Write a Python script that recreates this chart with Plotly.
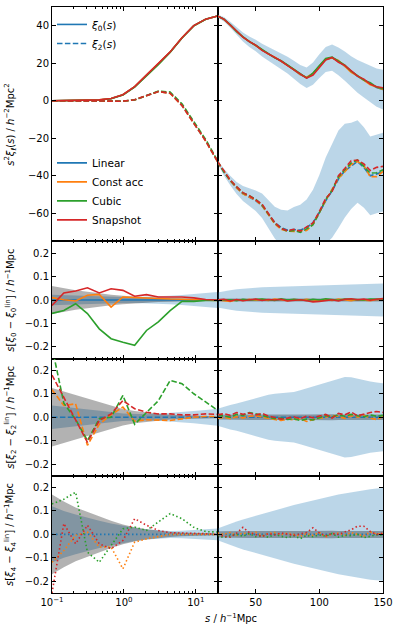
import numpy as np
import plotly.graph_objects as go
from plotly.subplots import make_subplots

# separations: log-spaced bins on the left panels, linear bins on the right panels
s_small = [0.1, 0.146, 0.213, 0.311, 0.454, 0.663, 0.968, 1.41, 2.06, 3.01, 4.39, 6.41, 9.36, 13.7, 20.0]
s_large = [20, 25, 30, 35, 40, 45, 50, 55, 60, 65, 70, 75, 80, 85, 90, 95, 100,
           105, 110, 115, 120, 125, 130, 135, 140, 145, 150]

# s^2 xi_l(s) of the linear reference
xi0_small = [0.0, 0.02, 0.05, 0.15, 0.45, 1.2, 3.2, 7.5, 13.5, 19.5, 26.0, 33.5, 40.0, 43.5, 45.2]
xi2_small = [0.0, 0.0, -0.02, -0.05, -0.12, -0.25, -0.3, 0.5, 2.7, 4.9, 4.0, -2.5, -12.0, -21.5, -32.5]
xi0_large = [45.2, 43.5, 40.5, 37.0, 34.0, 31.5, 29.5, 27.0, 25.0, 23.0, 21.0, 19.0, 16.5, 14.0,
             12.3, 14.5, 18.5, 22.0, 23.0, 21.0, 18.5, 15.5, 13.0, 11.0, 9.0, 7.0, 6.0]
xi2_large = [-32.5, -38.0, -42.5, -46.5, -49.5, -51.5, -53.3, -56.0, -60.4, -65.0, -67.6, -69.0,
             -68.7, -69.0, -67.6, -65.0, -59.6, -53.3, -48.0, -41.8, -37.3, -34.7, -32.4, -35.6,
             -40.0, -39.0, -38.0]
xi0_err_large = [0.8, 1.2, 1.6, 2.0, 2.4, 2.8, 3.1, 3.4, 3.7, 4.0, 4.2, 4.5, 4.8, 5.1, 5.5, 5.9,
                 6.3, 6.7, 7.0, 7.4, 7.8, 8.2, 8.7, 9.2, 9.7, 10.2, 10.6]
xi2_err_large = [1.0, 1.8, 2.5, 3.2, 4.0, 4.8, 5.5, 6.5, 7.5, 8.5, 9.5, 10.5, 12.0, 13.5, 15.0,
                 17.5, 20.0, 23.0, 25.0, 26.0, 25.0, 23.0, 22.0, 21.5, 21.0, 21.0, 21.0]

methods = ["Linear", "Const acc", "Cubic", "Snapshot"]
colours = ["#1f77b4", "#ff7f0e", "#2ca02c", "#d62728"]

# residuals s[xi_l - xi_l^lin], small scales
d0_const_small = [0.01, 0.001, -0.004, 0.02, 0.024, -0.03, 0.013, 0.01, 0.007, 0.005, 0.004, 0.003, 0.002, 0.0, -0.002]
d0_cubic_small = [-0.057, -0.045, -0.016, -0.058, -0.123, -0.165, -0.18, -0.193, -0.13, -0.093, -0.045, -0.006, -0.006, -0.002, -0.002]
d0_snap_small = [-0.023, 0.03, 0.038, 0.052, 0.03, 0.048, 0.041, 0.016, 0.023, 0.013, 0.013, 0.013, 0.009, 0.002, 0.0]
d2_const_small = [0.117, 0.05, 0.057, -0.12, -0.03, 0.011, 0.043, -0.017, -0.011, -0.011, -0.014, -0.007, 0.0, 0.003, 0.003]
d2_cubic_small = [0.3, 0.06, -0.01, -0.1, -0.007, 0.0, 0.093, -0.03, 0.02, 0.07, 0.157, 0.143, 0.1, 0.064, 0.03]
d2_snap_small = [0.18, 0.086, -0.014, -0.107, -0.014, 0.014, 0.071, 0.036, 0.021, 0.014, 0.014, 0.01, 0.01, 0.014, 0.012]
d4_const_small = [-0.119, -0.069, -0.004, 0.01, -0.054, -0.054, -0.147, -0.033, -0.019, -0.011, 0.0, 0.0, 0.0, 0.0, 0.0]
d4_cubic_small = [0.13, 0.15, 0.18, -0.076, -0.119, -0.047, 0.024, 0.031, 0.017, 0.053, 0.089, 0.067, 0.03, 0.012, 0.01]
d4_snap_small = [-0.25, 0.046, -0.04, 0.039, -0.04, -0.061, -0.026, 0.067, 0.039, 0.017, 0.007, 0.006, 0.003, 0.003, -0.001]

# residuals, large scales
d0_const_large = [0.0, -0.003, -0.006, 0.001, -0.002, 0.003, -0.001, 0.002, -0.002, 0.004, 0.001, -0.003, 0.002, -0.001,
                  0.003, 0.0, -0.003, 0.002, -0.002, 0.004, 0.0, -0.003, 0.002, 0.001, -0.003, 0.002, 0.0]
d0_cubic_large = [0.0, 0.002, 0.001, -0.003, 0.003, 0.0, 0.002, 0.004, 0.001, -0.002, 0.005, 0.0, 0.003, 0.002,
                  -0.002, 0.003, 0.0, 0.005, 0.002, -0.001, 0.004, 0.002, 0.003, 0.0, 0.004, 0.002, 0.003]
d0_snap_large = [0.0, 0.003, -0.004, 0.002, -0.003, 0.001, 0.004, -0.002, 0.002, 0.0, 0.003, -0.004, -0.002, 0.001,
                 -0.003, -0.008, -0.006, -0.002, 0.001, -0.004, 0.003, 0.005, 0.001, 0.004, -0.001, 0.003, 0.006]
d2_const_large = [-0.005, 0.0, -0.006, 0.002, -0.003, 0.004, 0.006, 0.0, -0.004, -0.01, -0.014, -0.008, -0.012, -0.006,
                  -0.018, -0.01, -0.004, 0.0, 0.008, 0.003, -0.005, 0.006, 0.0, 0.008, -0.004, -0.01, 0.002]
d2_cubic_large = [0.01, 0.005, 0.0, 0.012, 0.008, 0.02, 0.015, 0.008, 0.0, -0.006, -0.004, -0.01, -0.006, -0.014,
                  -0.008, -0.012, -0.002, 0.006, 0.002, 0.01, 0.004, 0.012, 0.006, 0.002, 0.01, 0.004, 0.008]
d2_snap_large = [0.01, 0.015, 0.008, 0.02, 0.012, 0.018, 0.01, 0.016, 0.005, 0.0, -0.008, -0.004, 0.002, -0.006,
                 0.004, -0.002, 0.005, 0.012, -0.004, 0.016, 0.01, 0.022, 0.006, 0.014, 0.02, 0.024, 0.02]
d4_const_large = [0.006, 0.0, 0.008, -0.004, 0.006, 0.0, 0.01, -0.006, 0.004, 0.008, -0.002, 0.006, 0.0, -0.008,
                  0.004, -0.004, 0.008, -0.012, 0.002, 0.006, -0.004, 0.008, 0.0, -0.006, 0.01, 0.002, 0.004]
d4_cubic_large = [-0.004, -0.014, -0.006, 0.0, -0.008, 0.004, -0.01, -0.004, -0.012, 0.0, -0.008, -0.014, -0.006, -0.018,
                  -0.004, -0.01, -0.002, -0.008, 0.004, -0.012, -0.004, -0.006, 0.0, -0.014, -0.008, -0.002, -0.004]
d4_snap_large = [0.0, -0.008, -0.012, 0.005, 0.03, 0.008, 0.0, -0.01, 0.004, -0.002, 0.006, 0.0, -0.004, 0.002,
                 0.008, 0.028, 0.006, -0.006, 0.004, 0.0, 0.01, 0.02, 0.035, 0.035, 0.012, 0.0, 0.005]

# error bands (half widths) for the residual panels
blue0_small = [0.022, 0.02, 0.018, 0.017, 0.015, 0.014, 0.013, 0.013, 0.014, 0.016, 0.018, 0.021, 0.025, 0.03, 0.034]
grey0_small = [0.06, 0.05, 0.042, 0.035, 0.028, 0.022, 0.018, 0.014, 0.011, 0.009, 0.007, 0.005, 0.004, 0.003, 0.002]
blue2_small = [0.05, 0.045, 0.04, 0.035, 0.028, 0.022, 0.016, 0.013, 0.013, 0.015, 0.018, 0.022, 0.026, 0.031, 0.036]
grey2_small = [0.125, 0.11, 0.095, 0.08, 0.065, 0.05, 0.035, 0.026, 0.02, 0.014, 0.01, 0.008, 0.006, 0.005, 0.004]
blue4_small = [0.12, 0.1, 0.085, 0.07, 0.058, 0.047, 0.037, 0.028, 0.022, 0.017, 0.015, 0.016, 0.018, 0.021, 0.025]
grey4_small = [0.17, 0.14, 0.115, 0.095, 0.075, 0.058, 0.042, 0.03, 0.022, 0.016, 0.011, 0.008, 0.006, 0.005, 0.004]
blue0_large = [0.032, 0.038, 0.042, 0.046, 0.049, 0.051, 0.052, 0.054, 0.055, 0.055, 0.055, 0.055, 0.056, 0.057,
               0.058, 0.059, 0.061, 0.062, 0.063, 0.064, 0.066, 0.066, 0.067, 0.068, 0.069, 0.07, 0.07]
blue2_large = [0.036, 0.045, 0.052, 0.058, 0.066, 0.075, 0.083, 0.09, 0.096, 0.1, 0.102, 0.104, 0.108, 0.115,
               0.123, 0.132, 0.14, 0.148, 0.157, 0.165, 0.172, 0.17, 0.163, 0.158, 0.152, 0.148, 0.145]
blue4_large = [0.025, 0.036, 0.046, 0.055, 0.064, 0.072, 0.079, 0.087, 0.095, 0.103, 0.111, 0.118, 0.125, 0.132,
               0.139, 0.145, 0.152, 0.158, 0.164, 0.17, 0.175, 0.18, 0.185, 0.189, 0.193, 0.196, 0.198]
grey0_large = [0.006, 0.006, 0.005, 0.006, 0.006, 0.005, 0.006, 0.006, 0.006, 0.005, 0.006, 0.006, 0.006, 0.006,
               0.005, 0.006, 0.006, 0.006, 0.006, 0.005, 0.006, 0.006, 0.006, 0.006, 0.006, 0.006, 0.006]
grey2_large = [0.01, 0.011, 0.012, 0.012, 0.011, 0.012, 0.012, 0.013, 0.012, 0.012, 0.012, 0.013, 0.012, 0.012,
               0.012, 0.013, 0.012, 0.012, 0.013, 0.012, 0.012, 0.012, 0.013, 0.012, 0.012, 0.012, 0.012]
grey4_large = [0.013, 0.014, 0.015, 0.015, 0.014, 0.015, 0.015, 0.016, 0.015, 0.015, 0.015, 0.016, 0.015, 0.015,
               0.015, 0.016, 0.015, 0.015, 0.016, 0.015, 0.015, 0.015, 0.016, 0.015, 0.015, 0.015, 0.015]

BLUE_BAND = "rgba(31,119,180,0.3)"
GREY_BAND = "rgba(0,0,0,0.3)"
FONT = "DejaVu Sans"

fig = make_subplots(rows=4, cols=2, row_heights=[2, 1, 1, 1],
                    horizontal_spacing=0, vertical_spacing=0)


def band(x, centre, half, colour, row, col):
    lo = [c - h for c, h in zip(centre, half)]
    hi = [c + h for c, h in zip(centre, half)]
    fig.add_trace(go.Scatter(x=x, y=lo, mode="lines", line=dict(width=0),
                             hoverinfo="skip", showlegend=False), row=row, col=col)
    fig.add_trace(go.Scatter(x=x, y=hi, mode="lines", line=dict(width=0), fill="tonexty",
                             fillcolor=colour, hoverinfo="skip", showlegend=False), row=row, col=col)


def line(x, y, colour, dash, row, col):
    fig.add_trace(go.Scatter(x=x, y=y, mode="lines", showlegend=False,
                             line=dict(color=colour, width=1.6, dash=dash)), row=row, col=col)


DASHED = "5.5px,2.4px"
DOTTED = "1.5px,2.5px"

small = dict(s=np.array(s_small), xi0=xi0_small, xi2=xi2_small,
             d0=[[0.0] * len(s_small), d0_const_small, d0_cubic_small, d0_snap_small],
             d2=[[0.0] * len(s_small), d2_const_small, d2_cubic_small, d2_snap_small],
             d4=[[0.0] * len(s_small), d4_const_small, d4_cubic_small, d4_snap_small],
             blue=[blue0_small, blue2_small, blue4_small],
             grey=[grey0_small, grey2_small, grey4_small])
large = dict(s=np.array(s_large), xi0=xi0_large, xi2=xi2_large,
             d0=[[0.0] * len(s_large), d0_const_large, d0_cubic_large, d0_snap_large],
             d2=[[0.0] * len(s_large), d2_const_large, d2_cubic_large, d2_snap_large],
             d4=[[0.0] * len(s_large), d4_const_large, d4_cubic_large, d4_snap_large],
             blue=[blue0_large, blue2_large, blue4_large],
             grey=[grey0_large, grey2_large, grey4_large])

for col, part in [(1, small), (2, large)]:
    s = part["s"]
    zero = [0.0] * len(s)
    if col == 2:
        band(s_large, xi0_large, xi0_err_large, BLUE_BAND, 1, 2)
        band(s_large, xi2_large, xi2_err_large, BLUE_BAND, 1, 2)
    # top panel: method multipoles = linear + s * residual
    for k, c in enumerate(colours):
        line(s, np.array(part["xi0"]) + s * np.array(part["d0"][k]), c, "solid", 1, col)
        line(s, np.array(part["xi2"]) + s * np.array(part["d2"][k]), c, DASHED, 1, col)
    for i, (key, dash) in enumerate([("d0", "solid"), ("d2", DASHED), ("d4", DOTTED)]):
        row = i + 2
        band(s, zero, part["blue"][i], BLUE_BAND, row, col)
        band(s, zero, part["grey"][i], GREY_BAND, row, col)
        for k, c in enumerate(colours):
            line(s, part[key][k], c, dash, row, col)

# legend entries
for name, dash in [("<i>ξ</i><sub>0</sub>(<i>s</i>)", "solid"), ("<i>ξ</i><sub>2</sub>(<i>s</i>)", DASHED)]:
    fig.add_trace(go.Scatter(x=[None], y=[None], mode="lines", name=name, legend="legend",
                             line=dict(color=colours[0], width=1.6, dash=dash)), row=1, col=1)
for name, c in zip(methods, colours):
    fig.add_trace(go.Scatter(x=[None], y=[None], mode="lines", name=name, legend="legend2",
                             line=dict(color=c, width=1.6)), row=1, col=1)

axis_style = dict(ticks="inside", ticklen=4, tickwidth=1, tickcolor="black", showline=True,
                  linecolor="black", linewidth=1, mirror="ticks", showgrid=False, zeroline=False,
                  tickfont=dict(family=FONT, size=10, color="black"))
minor_vals = [0.2, 0.3, 0.4, 0.5, 0.6, 0.7, 0.8, 0.9, 2, 3, 4, 5, 6, 7, 8, 9, 20]

for row in range(1, 5):
    fig.update_xaxes(axis_style, row=row, col=1, type="log", range=[-1, np.log10(20)],
                     tickvals=[0.1, 1, 10],
                     ticktext=["10<sup>−1</sup>", "10<sup>0</sup>", "10<sup>1</sup>"],
                     minor=dict(tickvals=minor_vals, ticks="inside", ticklen=2, tickcolor="black"),
                     showticklabels=(row == 4))
    fig.update_xaxes(axis_style, row=row, col=2, range=[20, 150], tickvals=[50, 100, 150],
                     showticklabels=(row == 4))
    if row == 1:
        yopts = dict(range=[-75, 50], tickvals=[-60, -40, -20, 0, 20, 40],
                     ticktext=["−60", "−40", "−20", "0", "20", "40"])
    else:
        yopts = dict(range=[-0.25, 0.25], tickvals=[-0.2, -0.1, 0, 0.1, 0.2],
                     ticktext=["−0.2", "−0.1", "0.0", "0.1", "0.2"])
    fig.update_yaxes(axis_style, row=row, col=1, **yopts)
    fig.update_yaxes(axis_style, row=row, col=2, showticklabels=False, **yopts)

ylabels = [
    "<i>s</i><sup>2</sup><i>ξ</i><sub><i>ℓ</i></sub>(<i>s</i>) / <i>h</i><sup>−2</sup>Mpc<sup>2</sup>",
    "<i>s</i>[<i>ξ</i><sub>0</sub> − <i>ξ</i><sub>0</sub><sup>lin</sup>] / <i>h</i><sup>−1</sup>Mpc",
    "<i>s</i>[<i>ξ</i><sub>2</sub> − <i>ξ</i><sub>2</sub><sup>lin</sup>] / <i>h</i><sup>−1</sup>Mpc",
    "<i>s</i>[<i>ξ</i><sub>4</sub> − <i>ξ</i><sub>4</sub><sup>lin</sup>] / <i>h</i><sup>−1</sup>Mpc",
]
ycentres = [0.8, 0.5, 0.3, 0.1]
annotations = []
for text, yc in zip(ylabels, ycentres):
    annotations.append(dict(text=text, xref="paper", yref="paper", x=-0.125, y=yc,
                            xanchor="center", yanchor="middle", textangle=-90, showarrow=False,
                            font=dict(family=FONT, size=10, color="black")))
annotations.append(dict(text="<i>s</i> / <i>h</i><sup>−1</sup>Mpc", xref="paper", yref="paper",
                        x=0.54, y=-0.042, xanchor="center", yanchor="middle", showarrow=False,
                        font=dict(family=FONT, size=10, color="black")))

fig.update_layout(
    width=399, height=631,
    margin=dict(l=52, r=13, t=6, b=38),
    paper_bgcolor="white", plot_bgcolor="white",
    font=dict(family=FONT, size=10, color="black"),
    annotations=annotations,
    legend=dict(x=0.0, y=0.995, xanchor="left", yanchor="top", bgcolor="rgba(0,0,0,0)",
                traceorder="normal", font=dict(family=FONT, size=10.5)),
    legend2=dict(x=0.0, y=0.612, xanchor="left", yanchor="bottom", bgcolor="rgba(0,0,0,0)",
                 traceorder="normal", font=dict(family=FONT, size=10.5)),
)

fig.write_html("out.html", config={"displayModeBar": False},
               post_script="document.body.style.margin='0';")
